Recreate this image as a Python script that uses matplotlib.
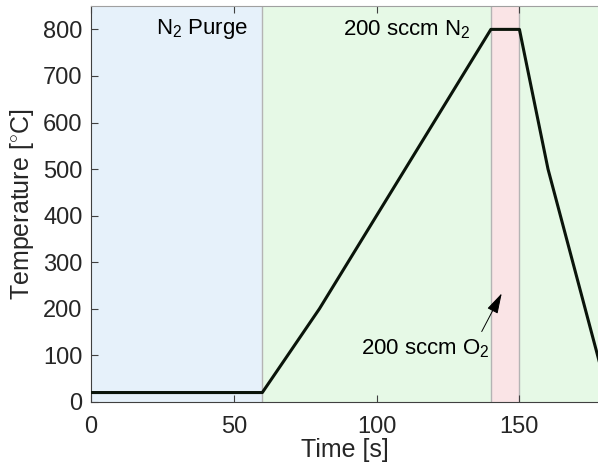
import matplotlib.pyplot as plt

plt.rcParams['font.family'] = ['Liberation Sans', 'DejaVu Sans']
plt.rcParams['mathtext.fontset'] = 'custom'
plt.rcParams['mathtext.rm'] = 'Liberation Sans'

# Temperature profile
time_s = [0, 60, 80, 140, 150, 160, 178]
temp_c = [20, 20, 200, 800, 800, 500, 85]

# Gas phases (start, end, colour)
phase_bounds = [(0, 60), (60, 140), (140, 150), (150, 180)]
phase_colors = ['#e6f1fa', '#e6f9e6', '#fae4e6', '#e6f9e6']
dividers = [60, 140, 150]

xticks = [0, 50, 100, 150]
yticks = [0, 100, 200, 300, 400, 500, 600, 700, 800]

txt = '#262626'

fig = plt.figure(figsize=(5.98, 4.70), dpi=100)
ax = fig.add_axes([0.152, 0.145, 0.848, 0.842])

for (a, b), c in zip(phase_bounds, phase_colors):
    ax.axvspan(a, b, color=c, lw=0, zorder=0)
for d in dividers:
    ax.axvline(d, color='#b4b4b4', lw=1.0, zorder=1)

ax.plot(time_s, temp_c, color='#0a140a', lw=2.2, zorder=3)

ax.text(55, 800, r'N$_2$ Purge', ha='right', va='center', fontsize=16, color='k')
ax.text(133, 800, r'200 sccm N$_2$', ha='right', va='center', fontsize=16, color='k')

# arrow pointing into the O2 window, label underneath
ax.annotate('', xy=(143.8, 233), xytext=(136.8, 151),
            arrowprops=dict(arrowstyle='-|>,head_length=0.7,head_width=0.2',
                            color='k', lw=0.7, mutation_scale=18,
                            shrinkA=0, shrinkB=0))
ax.text(117, 114, r'200 sccm O$_2$', ha='center', va='center', fontsize=16, color='k')

ax.set_xlim(0, 177.5)
ax.set_ylim(0, 850)
ax.set_xticks(xticks)
ax.set_yticks(yticks)
ax.tick_params(direction='in', length=5, width=0.8, colors='#404040',
               labelcolor=txt, labelsize=17, top=True, pad=6)
ax.tick_params(axis='x', pad=10)
ax.set_xlabel('Time [s]', fontsize=18, color=txt, labelpad=0)
ax.set_ylabel(r'Temperature [$^{\circ}$C]', fontsize=18, color=txt, labelpad=5)

for s in ['left', 'bottom']:
    ax.spines[s].set_color('#404040')
ax.spines['top'].set_color('#a0a0a0')
ax.spines['right'].set_visible(False)

fig.savefig('out.png', dpi=100)
